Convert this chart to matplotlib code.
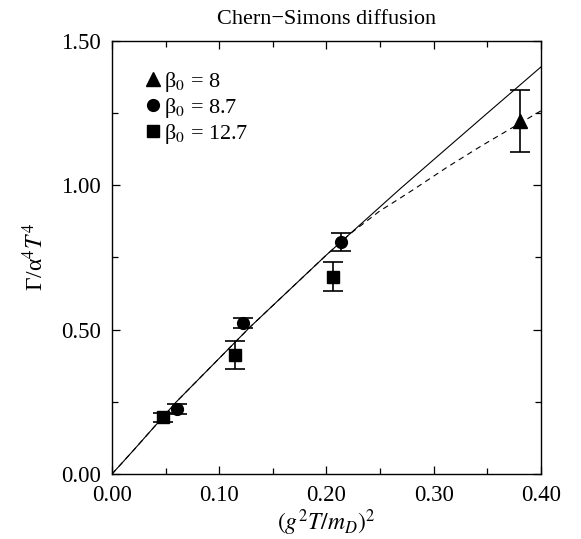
#Chern-Simons diffusion rate plot
import numpy as np
import matplotlib
matplotlib.use('Agg')
import matplotlib.pyplot as plt
from matplotlib.lines import Line2D

plt.rcParams['font.family'] = ['Liberation Serif', 'DejaVu Serif']
plt.rcParams['mathtext.fontset'] = 'stix'

#Lattice data (x = (g^2 T/m_D)^2, y = Gamma/alpha^4 T^4)
x_b8 = [0.3806]
y_b8 = [1.222]
e_b8 = [0.107]

x_b87 = [0.0609, 0.1225, 0.2136]
y_b87 = [0.226, 0.522, 0.805]
e_b87 = [0.017, 0.017, 0.031]

x_b127 = [0.0479, 0.1145, 0.2065]
y_b127 = [0.196, 0.412, 0.683]
e_b127 = [0.015, 0.047, 0.050]

#Fit curves
x_solid = [0.0, 0.02, 0.06, 0.1287, 0.2, 0.2687, 0.3, 0.35, 0.4]
y_solid = [0.0, 0.082, 0.25, 0.509, 0.759, 0.988, 1.089, 1.25, 1.41]
x_dash = [0.0, 0.02, 0.06, 0.1287, 0.2, 0.222, 0.25, 0.2625, 0.281, 0.3122, 0.3433, 0.4]
y_dash = [0.0, 0.082, 0.25, 0.509, 0.759, 0.832, 0.912, 0.941, 0.985, 1.062, 1.134, 1.258]

labels = [r'β$_0$ = 8', r'β$_0$ = 8.7', r'β$_0$ = 12.7']

fig = plt.figure(figsize=(5.81, 5.39), dpi=100)
ax = fig.add_axes([0.1928, 0.1206, 0.7383, 0.8034])

ax.plot(x_solid, y_solid, color='black', lw=0.8)
ax.plot(x_dash, y_dash, color='black', lw=0.8, ls=(0, (5, 4)))

err_style = dict(color='black', ecolor='black', elinewidth=1.2, capsize=7.5, capthick=1.2, ls='none')
ax.errorbar(x_b8, y_b8, yerr=e_b8, marker='^', ms=9.5, **err_style)
ax.errorbar(x_b87, y_b87, yerr=e_b87, marker='o', ms=8.5, **err_style)
ax.errorbar(x_b127, y_b127, yerr=e_b127, marker='s', ms=8, **err_style)

ax.set_xlim(0, 0.4)
ax.set_ylim(0, 1.5)
ax.set_xticks(np.arange(0, 0.41, 0.1))
ax.set_xticks(np.arange(0, 0.41, 0.05), minor=True)
ax.set_yticks(np.arange(0, 1.51, 0.5))
ax.set_yticks(np.arange(0, 1.51, 0.25), minor=True)
ax.xaxis.set_major_formatter(matplotlib.ticker.FormatStrFormatter('%.2f'))
ax.yaxis.set_major_formatter(matplotlib.ticker.FormatStrFormatter('%.2f'))
ax.tick_params(which='both', direction='in', top=True, right=True, labelsize=16.5, width=0.9)
ax.tick_params(which='major', length=6)
ax.tick_params(which='minor', length=4)
ax.tick_params(axis='x', pad=8)
ax.tick_params(axis='y', pad=8)
for s in ax.spines.values():
    s.set_linewidth(1.0)

ax.set_xlabel(r'$(g^2T/m_D)^2$', fontsize=17, labelpad=1)
ax.set_ylabel(r'Γ/α$^{4}T^{4}$', fontsize=17, labelpad=9)
ax.set_title('Chern\u2212Simons diffusion', fontsize=16, pad=12)

#legend with marker-only handles
handles = [Line2D([], [], color='black', marker=m, ms=s, ls='none')
           for m, s in zip(['^', 'o', 's'], [9.5, 8.5, 8])]
ax.legend(handles, labels, loc='upper left', bbox_to_anchor=(0.082, 0.934), frameon=False, fontsize=16,
          handlelength=0.5, handletextpad=0.25, labelspacing=0.1, borderaxespad=0, borderpad=0)

fig.savefig('out.png', dpi=100)
